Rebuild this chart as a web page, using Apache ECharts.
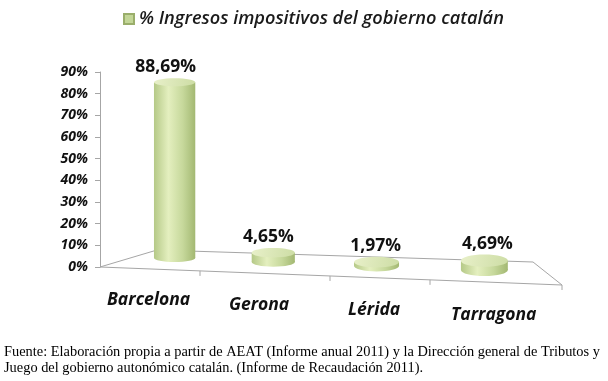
<!DOCTYPE html>
<html><head><meta charset="utf-8">
<script src="https://cdn.jsdelivr.net/npm/echarts@6/dist/echarts.min.js"></script>
<style>html,body{margin:0;padding:0;background:#fff}#c{width:608px;height:381px}</style>
</head><body><div id="c"></div>
<script>
var categories = ['Barcelona', 'Gerona', 'Lérida', 'Tarragona'];
var values = [88.69, 4.65, 1.97, 4.69];
var valueLabels = ['88,69%', '4,65%', '1,97%', '4,69%'];
var seriesName = '% Ingresos impositivos del gobierno catalán';
var yTicks = [0, 10, 20, 30, 40, 50, 60, 70, 80, 90];
var sourceNote = 'Fuente: Elaboración propia a partir de AEAT (Informe anual 2011) y la Dirección general de Tributos y\nJuego del gobierno autonómico catalán. (Informe de Recaudación 2011).';

var FONT = '"Open Sans", "DejaVu Sans", sans-serif';
var AXIS_OFFSET = 23;

function grad(c1, c2, c3, c4) {
  return new echarts.graphic.LinearGradient(0, 0, 1, 0, [
    {offset: 0, color: c1}, {offset: 0.35, color: c2}, {offset: 0.7, color: c3}, {offset: 1, color: c4}
  ]);
}

function renderBar(params, api) {
  var i = api.value(0), v = api.value(1);
  var c = api.coord([i, v]);
  var c0 = api.coord([i, 0]);
  var band = api.size([1, 0])[0];
  var p = 1 + 0.045 * i;
  var rx = band * 0.2 * p;
  var ry = 4 + 0.7 * i;
  var cx = c0[0] - 2.3 * i * (3 - i);
  var baseY = c0[1] - 9 + 4 * i;
  var h = (c0[1] - c[1]) * 0.915;
  var topY = baseY - h;
  var bodyFill = grad('#b5c987', '#e4efbf', '#c6d89b', '#a3b872');
  return {
    type: 'group',
    children: [
      {type: 'ellipse', shape: {cx: cx, cy: baseY, rx: rx, ry: ry}, style: {fill: bodyFill}},
      {type: 'rect', shape: {x: cx - rx, y: topY, width: rx * 2, height: h}, style: {fill: bodyFill}},
      {type: 'ellipse', shape: {cx: cx, cy: topY, rx: rx, ry: ry},
        style: {fill: new echarts.graphic.LinearGradient(0, 0, 1, 1, [
          {offset: 0, color: '#e8f0c9'}, {offset: 1, color: '#cddda5'}])}},
      {type: 'text', style: {text: valueLabels[i], x: cx - 9 + 4 * i, y: topY - ry - 2,
        align: 'center', verticalAlign: 'bottom', fill: '#111',
        font: 'bold 17.5px ' + FONT}},
      {type: 'text', style: {text: categories[i], x: cx - 26 + 11.8 * i, y: c0[1] + 33 + 5 * i,
        align: 'center', verticalAlign: 'middle', fill: '#111',
        font: 'italic bold 17.5px ' + FONT}}
    ]
  };
}

function renderFloor(params, api) {
  var c0 = api.coord([0, 0]);
  var band = api.size([1, 0])[0];
  var ox = c0[0] - band / 2 - AXIS_OFFSET, oy = c0[1];
  var F = [ox + 462, oy + 18];
  var B = [ox + 57, oy - 17];
  var R = [ox + 433, oy - 5];
  var st = {stroke: '#a6a6a6', lineWidth: 1, fill: null};
  var children = [
    {type: 'polyline', shape: {points: [[ox, oy], B, R, F, [ox, oy]]}, style: st}
  ];
  var tx = [100, 230, 330, 462];
  tx.forEach(function (d) {
    var y = oy + 18 * d / 462;
    children.push({type: 'line', shape: {x1: ox + d, y1: y, x2: ox + d, y2: y + 5}, style: st});
  });
  return {type: 'group', children: children};
}

var chart = echarts.init(document.getElementById('c'), null, {renderer: 'canvas'});
chart.setOption({
  animation: false,
  backgroundColor: '#fff',
  legend: {
    data: [seriesName], top: 5, left: 118,
    icon: 'rect', itemWidth: 10, itemHeight: 10, itemGap: 7,
    textStyle: {fontFamily: FONT, fontStyle: 'italic', fontWeight: 600, fontSize: 18.2, color: '#1a1a1a'}
  },
  grid: {left: 123, right: 72, top: 72, bottom: 114},
  xAxis: {type: 'category', data: categories, show: false},
  yAxis: {
    type: 'value', min: 0, max: 90, interval: 10, offset: AXIS_OFFSET,
    axisLine: {show: true, lineStyle: {color: '#a6a6a6'}},
    axisTick: {show: true, length: 5, lineStyle: {color: '#a6a6a6'}},
    splitLine: {show: false},
    axisLabel: {
      margin: 12, color: '#111', fontFamily: FONT, fontStyle: 'italic', fontWeight: 'bold', fontSize: 14,
      formatter: function (v) { return yTicks.indexOf(v) >= 0 ? v + '%' : ''; }
    }
  },
  series: [
    {type: 'custom', name: 'floor', renderItem: renderFloor, data: [[0, 0]], clip: false, z: 1, silent: true},
    {type: 'custom', name: seriesName, renderItem: renderBar, clip: false, z: 2,
      itemStyle: {color: '#c3d697', borderColor: '#9aae6b', borderWidth: 1},
      data: values.map(function (v, i) { return [i, v]; })}
  ],
  graphic: [{
    type: 'text', left: 4, top: 344,
    style: {text: sourceNote, font: '14.4px "Liberation Serif", "Times New Roman", serif', fill: '#000', lineHeight: 16}
  }]
});
</script></body></html>
